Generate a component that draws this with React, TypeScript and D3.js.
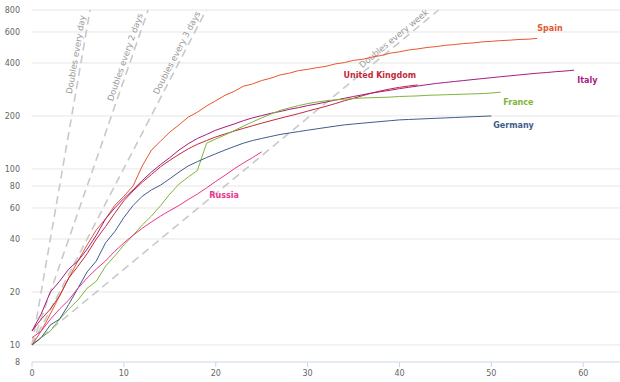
import React from "react";
import * as d3 from "d3";

const W = 620;
const H = 382;

// Deaths (log axis) by days since 10th death
const spain = [10, 12, 15, 19, 24, 30, 37, 45, 52, 62, 70, 80, 104, 128, 144, 162, 178, 197, 210, 228, 244, 262, 276, 295, 304, 318, 328, 342, 350, 362, 368, 376, 383, 395, 402, 414, 420, 432, 441, 455, 463, 474, 481, 490, 496, 504, 509, 516, 520, 527, 531, 536, 539, 544, 546, 552];
const italy = [12, 15, 20, 23, 27, 30, 35, 42, 52, 60, 68, 76, 86, 96, 106, 116, 128, 139, 149, 157, 166, 173, 180, 188, 195, 201, 207, 212, 218, 223, 229, 234, 240, 246, 252, 258, 264, 270, 275, 280, 286, 291, 296, 301, 306, 310, 314, 318, 322, 326, 330, 334, 338, 342, 346, 350, 353, 357, 360, 364];
const uk = [12, 14, 16, 19, 24, 28, 33, 40, 47, 56, 66, 75, 84, 93, 103, 112, 121, 130, 138, 145, 152, 158, 164, 170, 176, 182, 188, 194, 200, 206, 213, 220, 227, 235, 244, 252, 261, 270, 278, 285, 291, 296, 300];
const france = [10, 11, 12, 14, 16, 18, 21, 23, 28, 32, 37, 42, 48, 54, 62, 72, 82, 90, 98, 140, 148, 156, 165, 175, 185, 195, 205, 215, 222, 229, 235, 240, 244, 247, 249, 251, 253, 254, 255, 256, 258, 259, 260, 262, 263, 264, 265, 266, 267, 268, 270, 273];
const germany = [10, 11, 13, 14, 17, 21, 26, 30, 38, 44, 53, 62, 70, 76, 81, 88, 96, 104, 110, 116, 122, 128, 134, 140, 145, 149, 153, 157, 160, 163, 166, 169, 172, 175, 178, 180, 182, 184, 186, 188, 190, 191, 192, 193, 194, 195, 196, 197, 198, 199, 200];
const russia = [11, 12, 14, 16, 18, 21, 24, 27, 30, 34, 38, 42, 46, 50, 54, 58, 62, 67, 72, 78, 85, 92, 100, 108, 116, 125];

const seriesNames = ["Spain", "United Kingdom", "Italy", "France", "Germany", "Russia"];
const seriesValues = [spain, uk, italy, france, germany, russia];
const seriesColors = ["#e4572e", "#c22a3a", "#a51d7e", "#80b43a", "#3f5d8c", "#e8358e"];
// label anchor in data coords (day, value)
const labelDays = [55.0, 33.9, 59.35, 51.3, 50.2, 19.3];
const labelVals = [632, 340, 319, 239, 178, 70.5];

const yTicks = [8, 10, 20, 40, 60, 80, 100, 200, 400, 600, 800];
const xTicks = [0, 10, 20, 30, 40, 50, 60];

const doublingPeriods = [1, 2, 3, 7];
const doublingLabels = ["Doubles every day", "Doubles every 2 days", "Doubles every 3 days", "Doubles every week"];
const doublingLabelVals = [440, 420, 440, 516];

const FONT = "'DejaVu Sans', sans-serif";

export default function App() {
  const x = d3.scaleLinear().domain([0, 64]).range([32, 620]);
  const y = d3.scaleLog().domain([8, 800]).range([362, 10]);
  const line = d3
    .line<number>()
    .x((_, i) => x(i))
    .y((d) => y(d));

  return (
    <svg width={W} height={H} style={{ position: "absolute", left: 0, top: 0, background: "#fff" }}>
      <rect width={W} height={H} fill="#fff" />
      {yTicks.map((t) => (
        <g key={"y" + t}>
          {t !== 8 && <line x1={32} x2={620} y1={y(t)} y2={y(t)} stroke="#e6e6e6" strokeWidth={1} />}
          <text x={20} y={y(t)} dy="0.35em" textAnchor="end" fontFamily={FONT} fontSize={8} fill="#666">
            {t}
          </text>
        </g>
      ))}
      <line x1={32} x2={620} y1={y(8)} y2={y(8)} stroke="#ccd6eb" strokeWidth={1} />
      {xTicks.map((t) => (
        <g key={"x" + t}>
          <line x1={x(t)} x2={x(t)} y1={y(8)} y2={y(8) + 5} stroke="#ccd6eb" strokeWidth={1} />
          <text x={x(t)} y={376} textAnchor="middle" fontFamily={FONT} fontSize={8} fill="#666">
            {t}
          </text>
        </g>
      ))}
      {doublingPeriods.map((p, i) => {
        const tEnd = p * Math.log2(80);
        const x1 = x(0), y1 = y(10), x2 = x(tEnd), y2 = y(800);
        const ang = (Math.atan2(y2 - y1, x2 - x1) * 180) / Math.PI;
        const lv = doublingLabelVals[i];
        const lt = p * Math.log2(lv / 10);
        const dx = x2 - x1, dyy = y2 - y1;
        const len = Math.hypot(dx, dyy);
        const nx = dyy / len, ny = -dx / len;
        const off = 6.5;
        const cx = x(lt) + nx * off;
        const cy = y(lv) + ny * off;
        return (
          <g key={"d" + p}>
            <line x1={x1} y1={y1} x2={x2} y2={y2} stroke="#c9c9c9" strokeWidth={1.6} strokeDasharray="8,5" />
            <text
              x={cx}
              y={cy}
              dy="0.35em"
              textAnchor="middle"
              fontFamily={FONT}
              fontSize={8.5}
              fill="#999"
              transform={`rotate(${ang},${cx},${cy})`}
            >
              {doublingLabels[i]}
            </text>
          </g>
        );
      })}
      {seriesValues.map((vals, i) => (
        <path key={"s" + i} d={line(vals) || ""} fill="none" stroke={seriesColors[i]} strokeWidth={1} />
      ))}
      {seriesNames.map((n, i) => (
        <text
          key={"l" + i}
          x={x(labelDays[i])}
          y={y(labelVals[i])}
          dy="0.35em"
          fontFamily={FONT}
          fontSize={8}
          fontWeight="bold"
          fill={seriesColors[i]}
        >
          {n}
        </text>
      ))}
    </svg>
  );
}
